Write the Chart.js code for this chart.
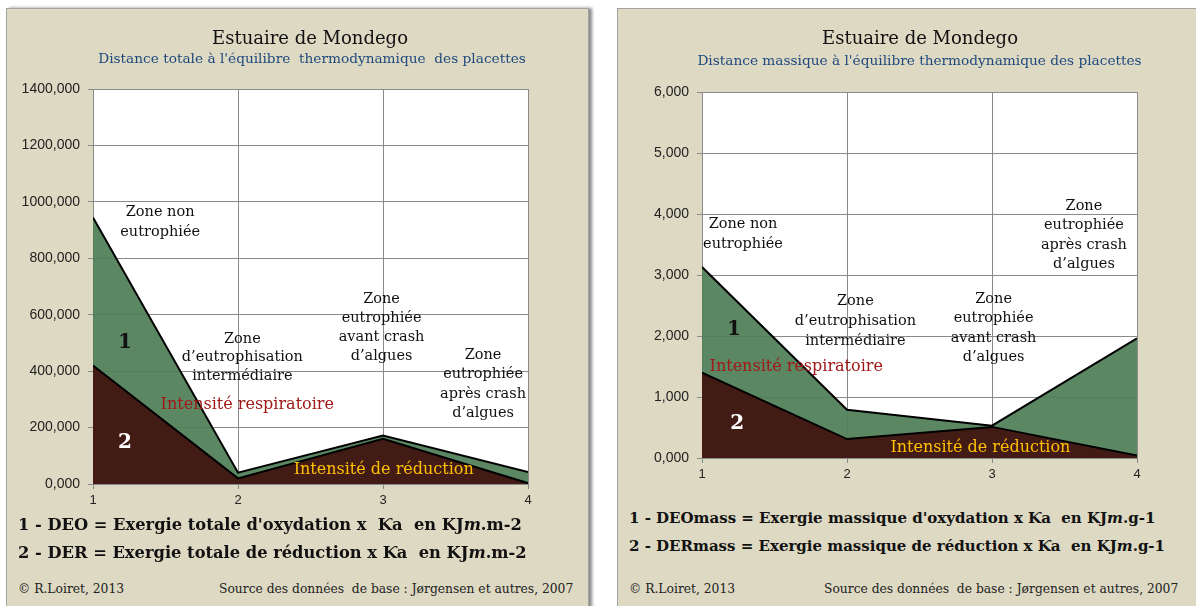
<!DOCTYPE html>
<html>
<head>
<meta charset="utf-8">
<script src="https://cdn.jsdelivr.net/npm/chart.js@4.4.1/dist/chart.umd.min.js"></script>
<style>
  body { margin: 0; background: #fff; width: 1196px; height: 606px; overflow: hidden; position: relative; font-family: "DejaVu Serif", "Liberation Serif", serif; }
  .panel { position: absolute; background: #ddd9c3; border: 1px solid #a3a3a3; }
  #panelA { left: 6px; top: 8px; width: 581px; height: 610px; box-shadow: 3px 0 3px #8a8a8a; }
  #panelB { left: 617px; top: 8px; width: 600px; height: 610px; }
  .panel canvas { position: absolute; left: 0; top: 0; }
  .title { position: absolute; text-align: center; font-size: 18px; color: #111; white-space: pre; }
  .sub { position: absolute; text-align: center; font-size: 13.7px; color: #1f497d; white-space: pre; }
  .key { position: absolute; left: 11px; font-weight: bold; font-size: 16.3px; color: #111; white-space: pre; }
  .foot { position: absolute; font-size: 12.3px; color: #222; white-space: pre; }
</style>
</head>
<body>
<div class="panel" id="panelA">
  <canvas id="chartTotal" width="581" height="510"></canvas>
  <div class="title" style="left:0;width:606px;top:18px;">Estuaire de Mondego</div>
  <div class="sub" style="left:0;width:610px;top:41px;">Distance totale à l'équilibre  thermodynamique  des placettes</div>
  <div class="key" style="top:506px;">1 - DEO = Exergie totale d'oxydation x  Ƙa  en KJ<i>m</i>.m-2</div>
  <div class="key" style="top:534px;">2 - DER = Exergie totale de réduction x Ƙa  en KJ<i>m</i>.m-2</div>
  <div class="foot" style="left:11px;top:573px;">© R.Loiret, 2013</div>
  <div class="foot" style="left:212px;top:573px;">Source des données  de base : Jørgensen et autres, 2007</div>
</div>
<div class="panel" id="panelB">
  <canvas id="chartMass" width="579" height="490"></canvas>
  <div class="title" style="left:0;width:604px;top:18px;">Estuaire de Mondego</div>
  <div class="sub" style="left:0;width:603px;top:43px;">Distance massique à l'équilibre thermodynamique des placettes</div>
  <div class="key" style="top:500px;font-size:15px;">1 - DEOmass = Exergie massique d'oxydation x Ƙa  en KJ<i>m</i>.g-1</div>
  <div class="key" style="top:528px;font-size:15px;">2 - DERmass = Exergie massique de réduction x Ƙa  en KJ<i>m</i>.g-1</div>
  <div class="foot" style="left:11px;top:573px;">© R.Loiret, 2013</div>
  <div class="foot" style="left:206px;top:573px;">Source des données  de base : Jørgensen et autres, 2007</div>
</div>
<script>
// stations (placettes) along the estuary
const stations = [1, 2, 3, 4];

// distance totale
const deoTotal = [945, 40, 172, 42];
const derTotal = [420, 20, 160, 3];
const totalMax = 1400;
const totalStep = 200;

// distance massique
const deoMass = [3.13, 0.79, 0.53, 1.96];
const derMass = [1.40, 0.31, 0.51, 0.04];
const massMax = 6;
const massStep = 1;

const zoneNonEutro = ["Zone non", "eutrophiée"];
const zoneInter = ["Zone", "d\u2019eutrophisation", "intermédiaire"];
const zoneAvant = ["Zone", "eutrophiée", "avant crash", "d\u2019algues"];
const zoneApres = ["Zone", "eutrophiée", "après crash", "d\u2019algues"];

const GREEN = "rgba(79, 126, 87, 0.93)";
const BROWN = "rgba(66, 24, 19, 0.97)";
const GRID = "#8a8a8a";

// writes the zone captions inside the plot, placed in axis units
const zoneNotes = {
  id: "zoneNotes",
  afterDatasetsDraw(chart, args, opts) {
    const ctx = chart.ctx;
    const xs = chart.scales.x, ys = chart.scales.y;
    ctx.save();
    ctx.textAlign = "center";
    ctx.textBaseline = "middle";
    (opts.notes || []).forEach(function (n) {
      const px = xs.getPixelForValue(n.x);
      const py = ys.getPixelForValue(n.y);
      ctx.font = n.font;
      ctx.fillStyle = n.color;
      n.lines.forEach(function (l, k) {
        ctx.fillText(l, px, py + k * (n.lh || 19.5));
      });
    });
    ctx.restore();
  }
};

function toPoints(vals) {
  return stations.map(function (s, i) { return { x: s, y: vals[i] }; });
}

function makeChart(id, deo, der, yMax, yStep, box, notes) {
  const ctx = document.getElementById(id).getContext("2d");
  return new Chart(ctx, {
    type: "line",
    data: {
      datasets: [
        {
          label: "DEO",
          data: toPoints(deo),
          borderColor: "#000",
          borderWidth: 2,
          backgroundColor: GREEN,
          fill: "origin",
          pointRadius: 0,
          tension: 0,
          order: 2
        },
        {
          label: "DER",
          data: toPoints(der),
          borderColor: "#000",
          borderWidth: 2,
          backgroundColor: BROWN,
          fill: "origin",
          pointRadius: 0,
          tension: 0,
          order: 1
        }
      ]
    },
    options: {
      responsive: false,
      animation: false,
      devicePixelRatio: 1,
      layout: { padding: { left: 0, top: box.top, right: box.right, bottom: 0 } },
      plugins: {
        legend: { display: false },
        tooltip: { enabled: false },
        zoneNotes: { notes: notes }
      },
      scales: {
        x: {
          type: "linear",
          min: 1,
          max: 4,
          ticks: {
            stepSize: 1,
            padding: 4,
            color: "#222",
            font: { family: "Liberation Sans", size: 13 }
          },
          grid: { color: GRID, tickLength: 5, drawOnChartArea: true },
          border: { color: GRID },
          afterFit: function (scale) { scale.height = box.xHeight; }
        },
        y: {
          min: 0,
          max: yMax,
          ticks: {
            stepSize: yStep,
            padding: 8,
            color: "#222",
            font: { family: "Liberation Sans", size: 14 },
            callback: function (v) { return v.toFixed(3).replace(".", ","); }
          },
          grid: { color: GRID, tickLength: 5 },
          border: { color: GRID },
          afterFit: function (scale) { scale.width = box.left; }
        }
      }
    },
    plugins: [zoneNotes, {
      id: "whitePlot",
      beforeDraw(chart) {
        const a = chart.chartArea;
        chart.ctx.save();
        chart.ctx.fillStyle = "#fff";
        chart.ctx.fillRect(a.left, a.top, a.right - a.left, a.bottom - a.top);
        chart.ctx.restore();
      }
    }]
  });
}

const zoneFont = '14.5px "DejaVu Serif", serif';
const bigFont = '16px "DejaVu Serif", serif';
const numFont = 'bold 20px "DejaVu Serif", serif';

makeChart("chartTotal", deoTotal, derTotal, totalMax, totalStep,
  { left: 86, top: 80, right: 60, xHeight: 35 },
  [
    { x: 1.463, y: 964, lines: zoneNonEutro, font: zoneFont, color: "#111", lh: 20.5 },
    { x: 2.03, y: 514, lines: zoneInter, font: zoneFont, color: "#111", lh: 18.5 },
    { x: 2.99, y: 656, lines: zoneAvant, font: zoneFont, color: "#111", lh: 19 },
    { x: 3.69, y: 457, lines: zoneApres, font: zoneFont, color: "#111", lh: 19.5 },
    { x: 2.064, y: 280, lines: ["Intensité respiratoire"], font: bigFont, color: "#a01818" },
    { x: 3.005, y: 50, lines: ["Intensité de réduction"], font: bigFont, color: "#ffc000" },
    { x: 1.22, y: 500, lines: ["1"], font: numFont, color: "#111" },
    { x: 1.22, y: 145, lines: ["2"], font: numFont, color: "#fff" }
  ]);

makeChart("chartMass", deoMass, derMass, massMax, massStep,
  { left: 84, top: 83, right: 60, xHeight: 41 },
  [
    { x: 1.283, y: 3.836, lines: zoneNonEutro, font: zoneFont, color: "#111", lh: 20 },
    { x: 2.058, y: 2.574, lines: zoneInter, font: zoneFont, color: "#111", lh: 20 },
    { x: 3.011, y: 2.607, lines: zoneAvant, font: zoneFont, color: "#111", lh: 19.5 },
    { x: 3.634, y: 4.131, lines: zoneApres, font: zoneFont, color: "#111", lh: 19.5 },
    { x: 1.65, y: 1.49, lines: ["Intensité respiratoire"], font: bigFont, color: "#a01818" },
    { x: 2.92, y: 0.164, lines: ["Intensité de réduction"], font: bigFont, color: "#ffc000" },
    { x: 1.221, y: 2.098, lines: ["1"], font: numFont, color: "#111" },
    { x: 1.242, y: 0.557, lines: ["2"], font: numFont, color: "#fff" }
  ]);
</script>
</body>
</html>
